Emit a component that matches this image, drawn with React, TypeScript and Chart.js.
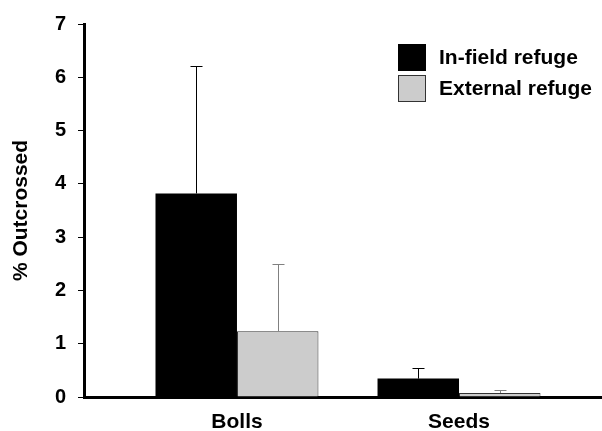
import React, { useEffect, useRef } from 'react';
import { Chart, registerables } from 'chart.js';

Chart.register(...registerables);

const categories = ['Bolls', 'Seeds'];
const seriesNames = ['In-field refuge', 'External refuge'];
const inFieldValues = [3.82, 0.345];
const inFieldErrors = [2.4, 0.205];
const externalValues = [1.235, 0.075];
const externalErrors = [1.255, 0.065];
const yTickValues = [0, 1, 2, 3, 4, 5, 6, 7];
const yAxisTitle = '% Outcrossed';

const FONT_FAMILY = "'Liberation Sans', Arial, Helvetica, sans-serif";
const seriesColors = ['#000000', '#cccccc'];
const seriesBorders = ['#000000', '#333333'];
const errorColors = ['#000000', '#808080'];
const seriesErrors = [inFieldErrors, externalErrors];

const errorBarPlugin = {
  id: 'errorBars',
  afterDatasetsDraw(chart: any) {
    const ctx = chart.ctx;
    const yScale = chart.scales.y;
    chart.data.datasets.forEach((ds: any, i: number) => {
      const meta = chart.getDatasetMeta(i);
      const errs = seriesErrors[i];
      meta.data.forEach((bar: any, j: number) => {
        const v = ds.data[j].y;
        const top = yScale.getPixelForValue(v + errs[j]);
        const x = Math.round(bar.x) + 0.5;
        const ty = Math.round(top) + 0.5;
        ctx.save();
        ctx.strokeStyle = errorColors[i];
        ctx.lineWidth = 1;
        ctx.beginPath();
        ctx.moveTo(x, bar.y);
        ctx.lineTo(x, ty);
        ctx.moveTo(x - 6, ty);
        ctx.lineTo(x + 6, ty);
        ctx.stroke();
        ctx.restore();
      });
    });
  },
};

const legendPlugin = {
  id: 'customLegend',
  afterDraw(chart: any) {
    const ctx = chart.ctx;
    const area = chart.chartArea;
    const boxX = area.right - 204;
    const startY = area.top + 20;
    const boxW = 28;
    const boxH = 27;
    const gap = 31;
    ctx.save();
    ctx.font = `bold 21px ${FONT_FAMILY}`;
    ctx.textBaseline = 'middle';
    ctx.textAlign = 'left';
    chart.data.datasets.forEach((ds: any, i: number) => {
      const y = startY + i * gap;
      ctx.fillStyle = seriesColors[i];
      ctx.fillRect(boxX, y, boxW, boxH);
      ctx.strokeStyle = seriesBorders[i];
      ctx.lineWidth = 1;
      ctx.strokeRect(boxX + 0.5, y + 0.5, boxW - 1, boxH - 1);
      ctx.fillStyle = '#000';
      ctx.fillText(ds.label, boxX + 41, y + boxH / 2 + 1);
    });
    ctx.restore();
  },
};

export default function App() {
  const ref = useRef<HTMLCanvasElement | null>(null);

  useEffect(() => {
    if (!ref.current) return;
    const font = { family: FONT_FAMILY, size: 20, weight: 'bold' as const };
    const xFont = { family: FONT_FAMILY, size: 21, weight: 'bold' as const };
    const makeData = (vals: number[]) => vals.map((v, i) => ({ x: i + 1, y: v }));
    const chart = new Chart(ref.current, {
      type: 'bar',
      data: {
        datasets: [
          {
            label: seriesNames[0],
            data: makeData(inFieldValues),
            backgroundColor: seriesColors[0],
            borderColor: seriesBorders[0],
            borderWidth: 0,
            categoryPercentage: 0.734,
            barPercentage: 1,
          },
          {
            label: seriesNames[1],
            data: makeData(externalValues),
            backgroundColor: seriesColors[1],
            borderColor: seriesBorders[1],
            borderWidth: 1,
            categoryPercentage: 0.734,
            barPercentage: 1,
          },
        ],
      } as any,
      options: {
        animation: false,
        responsive: false,
        devicePixelRatio: 1,
        layout: { padding: { top: 23, left: 0, right: 0, bottom: 0 } },
        plugins: {
          legend: { display: false },
          tooltip: { enabled: false },
        },
        scales: {
          x: {
            type: 'linear',
            offset: false,
            min: 0.311,
            max: 2.644,
            afterBuildTicks: (s: any) => {
              s.ticks = categories.map((_, i) => ({ value: i + 1 }));
            },
            afterFit: (s: any) => {
              s.height = 34;
            },
            ticks: {
              callback: (v: any) => categories[Math.round(Number(v)) - 1] ?? '',
              font: xFont,
              color: '#000',
              padding: 13,
              autoSkip: false,
              maxRotation: 0,
            },
            grid: { display: false, drawTicks: false, offset: false },
            border: { display: true, color: '#000', width: 3 },
          },
          y: {
            min: 0,
            max: 7,
            afterBuildTicks: (s: any) => {
              s.ticks = yTickValues.map((v) => ({ value: v }));
            },
            afterFit: (s: any) => {
              s.width = 84;
            },
            ticks: { font, color: '#000', padding: 12 },
            grid: {
              display: true,
              drawOnChartArea: false,
              drawTicks: true,
              tickLength: 6,
              color: '#000',
              lineWidth: 1,
            },
            border: { display: true, color: '#000', width: 3 },
            title: {
              display: true,
              text: yAxisTitle,
              font: { family: FONT_FAMILY, size: 21, weight: 'bold' },
              color: '#000',
              padding: { top: 9, bottom: 0 },
            },
          },
        },
      } as any,
      plugins: [errorBarPlugin, legendPlugin],
    });
    return () => chart.destroy();
  }, []);

  return (
    <div style={{ position: 'fixed', left: 0, top: 0, width: 602, height: 431, background: '#fff' }}>
      <canvas ref={ref} width={602} height={431} style={{ display: 'block' }} />
    </div>
  );
}
